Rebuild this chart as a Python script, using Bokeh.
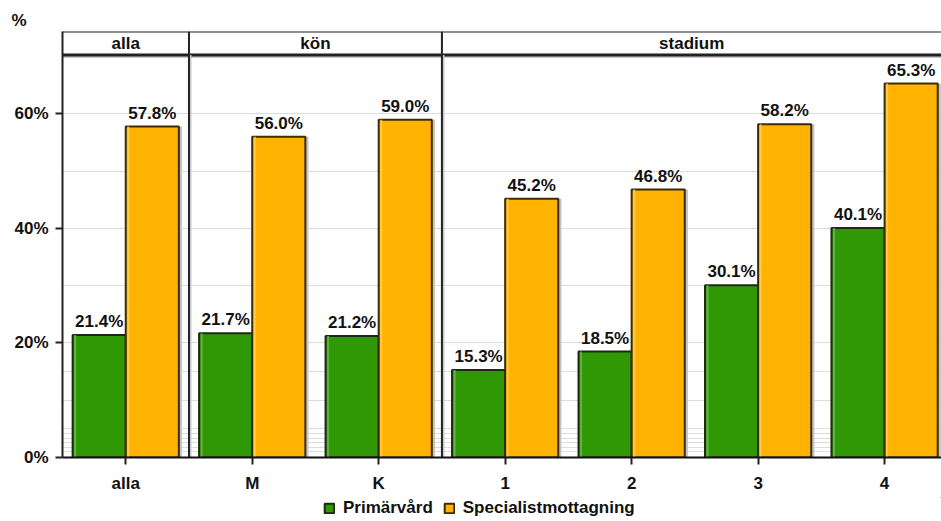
from bokeh.plotting import figure
from bokeh.layouts import column
from bokeh.models import Range1d, FixedTicker, Legend, LegendItem, ColumnDataSource
from bokeh.core.properties import value
from bokeh.transform import dodge
from bokeh.embed import file_html
from bokeh.resources import INLINE

categories = ["alla", "M", "K", "1", "2", "3", "4"]
groups = ["alla", "kön", "stadium"]
group_bounds = [(-0.5, 0.5), (0.5, 2.5), (2.5, 6.45)]
primarvard = [21.4, 21.7, 21.2, 15.3, 18.5, 30.1, 40.1]
specialist = [57.8, 56.0, 59.0, 45.2, 46.8, 58.2, 65.3]
series_names = ["Primärvård", "Specialistmottagning"]
y_ticks = [0, 20, 40, 60]
y_tick_labels = ["0%", "20%", "40%", "60%"]
grid_lines = [1.0, 1.8, 2.6, 3.4, 4.2, 5, 10, 15, 20, 30, 40, 50, 60]

FONT = "Liberation Sans"
FS = "17px"
GREEN = "#319805"
ORANGE = "#ffb300"
GREEN_LINE = "#1c2a12"
ORANGE_LINE = "#3a2c08"
PLOT_TOP = 70.3
HEADER_TOP = 74.4
BW = 0.42

p = figure(width=941, height=497, output_backend="svg", toolbar_location=None,
           x_range=Range1d(-0.5, 6.45), y_range=Range1d(0, HEADER_TOP),
           min_border_left=62, min_border_right=0, min_border_top=31,
           min_border_bottom=40)
p.outline_line_color = None
p.background_fill_color = "white"

# unit label as title
p.title.text = "%"
p.title.align = "left"
p.title.offset = -51
p.title.text_font = FONT
p.title.text_font_style = "bold"
p.title.text_font_size = FS
p.title.text_color = "#111111"
p.title.standoff = 4

# grid
p.xgrid.visible = False
p.ygrid.ticker = FixedTicker(ticks=grid_lines)
p.ygrid.grid_line_color = "#dcdcdc"
p.ygrid.grid_line_width = 1

# axes
p.yaxis.ticker = FixedTicker(ticks=y_ticks)
p.yaxis.major_label_overrides = {t: l for t, l in zip(y_ticks, y_tick_labels)}
p.yaxis.minor_tick_line_color = None
p.yaxis.major_tick_in = 0
p.yaxis.major_tick_out = 7
p.yaxis.axis_line_width = 2
p.yaxis.axis_line_color = "#222222"
p.yaxis.major_tick_line_width = 2
p.yaxis.major_tick_line_color = "#222222"
p.yaxis.major_label_text_font = FONT
p.yaxis.major_label_text_font_style = "bold"
p.yaxis.major_label_text_font_size = FS
p.yaxis.major_label_text_color = "#111111"
p.yaxis.major_label_standoff = 7

xt = list(range(len(categories)))
p.xaxis.ticker = FixedTicker(ticks=xt)
p.xaxis.major_label_overrides = {i: c for i, c in zip(xt, categories)}
p.xaxis.minor_tick_line_color = None
p.xaxis.major_tick_in = 0
p.xaxis.major_tick_out = 7
p.xaxis.axis_line_width = 2
p.xaxis.axis_line_color = "#111111"
p.xaxis.major_tick_line_width = 2
p.xaxis.major_tick_line_color = "#222222"
p.xaxis.major_label_text_font = FONT
p.xaxis.major_label_text_font_style = "bold"
p.xaxis.major_label_text_font_size = FS
p.xaxis.major_label_text_color = "#111111"
p.xaxis.major_label_standoff = 9

src = ColumnDataSource(dict(
    x=xt,
    xg=[i - BW / 2 for i in xt],
    xo=[i + BW / 2 for i in xt],
    prim=primarvard,
    spec=specialist,
    prim_lbl=[f"{v:.1f}%" for v in primarvard],
    spec_lbl=[f"{v:.1f}%" for v in specialist],
))

# shadows
p.vbar(x=dodge("xg", 0.025, range=p.x_range), top="prim", width=BW, source=src,
       fill_color="#c4c4c4", line_color=None)
p.vbar(x=dodge("xo", 0.025, range=p.x_range), top="spec", width=BW, source=src,
       fill_color="#c4c4c4", line_color=None)

p.vbar(x="xg", top="prim", width=BW, source=src, fill_color=GREEN,
       line_color=GREEN_LINE, line_width=2)
p.vbar(x="xo", top="spec", width=BW, source=src, fill_color=ORANGE,
       line_color=ORANGE_LINE, line_width=2)

# inner highlights
p.vbar(x=dodge("xg", -BW / 2 + 0.02, range=p.x_range), top="prim", width=0.016, source=src,
       fill_color="#6cbb50", line_color=None, fill_alpha=0.8)
p.vbar(x=dodge("xo", -BW / 2 + 0.02, range=p.x_range), top="spec", width=0.016, source=src,
       fill_color="#ffcf55", line_color=None, fill_alpha=0.8)

# value labels
p.text(x="xg", y="prim", text="prim_lbl", source=src, text_align="center",
       text_baseline="bottom", y_offset=-4, text_font=value(FONT),
       text_font_style="bold", text_font_size=FS, text_color="#111111")
p.text(x="xo", y="spec", text="spec_lbl", source=src, text_align="center",
       text_baseline="bottom", y_offset=-4, text_font=value(FONT),
       text_font_style="bold", text_font_size=FS, text_color="#111111")

# header band
p.quad(left=[-0.5], right=[6.45], bottom=[PLOT_TOP], top=[HEADER_TOP],
       fill_color="white", line_color=None)
p.segment(x0=[-0.5], x1=[6.45], y0=[HEADER_TOP], y1=[HEADER_TOP],
          line_color="#222222", line_width=2)
p.segment(x0=[-0.5], x1=[6.45], y0=[PLOT_TOP - 0.35], y1=[PLOT_TOP - 0.35],
          line_color="#c8c8c8", line_width=2)
p.segment(x0=[-0.5], x1=[6.45], y0=[PLOT_TOP], y1=[PLOT_TOP],
          line_color="#222222", line_width=3)
sep_x = [b[1] for b in group_bounds[:-1]]
p.segment(x0=[s + 0.012 for s in sep_x], x1=[s + 0.012 for s in sep_x],
          y0=[0] * len(sep_x), y1=[PLOT_TOP] * len(sep_x),
          line_color="#c8c8c8", line_width=2)
p.segment(x0=sep_x, x1=sep_x, y0=[0] * len(sep_x), y1=[HEADER_TOP] * len(sep_x),
          line_color="#222222", line_width=2)
p.text(x=[(a + b) / 2 for a, b in group_bounds], y=[(PLOT_TOP + HEADER_TOP) / 2] * 3,
       text=groups, text_align="center", text_baseline="middle",
       text_font=value(FONT), text_font_style="bold", text_font_size=FS,
       text_color="#111111")

# legend strip
lg = figure(width=941, height=24, output_backend="svg", toolbar_location=None,
            x_range=Range1d(0, 1), y_range=Range1d(0, 1),
            x_axis_location=None, y_axis_location=None,
            min_border_left=0, min_border_right=0, min_border_top=0, min_border_bottom=0)
lg.outline_line_color = None
lg.grid.visible = False
lr1 = lg.vbar(x=[5.0], bottom=[3.0], top=[4.0], width=0.1, fill_color=GREEN,
              line_color=GREEN_LINE, line_width=2)
lr2 = lg.vbar(x=[5.0], bottom=[3.0], top=[4.0], width=0.1, fill_color=ORANGE,
              line_color=ORANGE_LINE, line_width=2)
legend = Legend(items=[LegendItem(label=series_names[0], renderers=[lr1]),
                       LegendItem(label=series_names[1], renderers=[lr2])],
                orientation="horizontal", location=(261, 3),
                label_text_font=FONT, label_text_font_style="bold",
                label_text_font_size=FS, label_text_color="#111111",
                glyph_width=12, glyph_height=12, spacing=10, padding=0,
                margin=0, border_line_color=None, background_fill_alpha=0,
                label_standoff=8, label_height=17)
lg.add_layout(legend)

layout = column(p, lg, spacing=0)
open("out.html", "w").write(file_html(layout, INLINE))
